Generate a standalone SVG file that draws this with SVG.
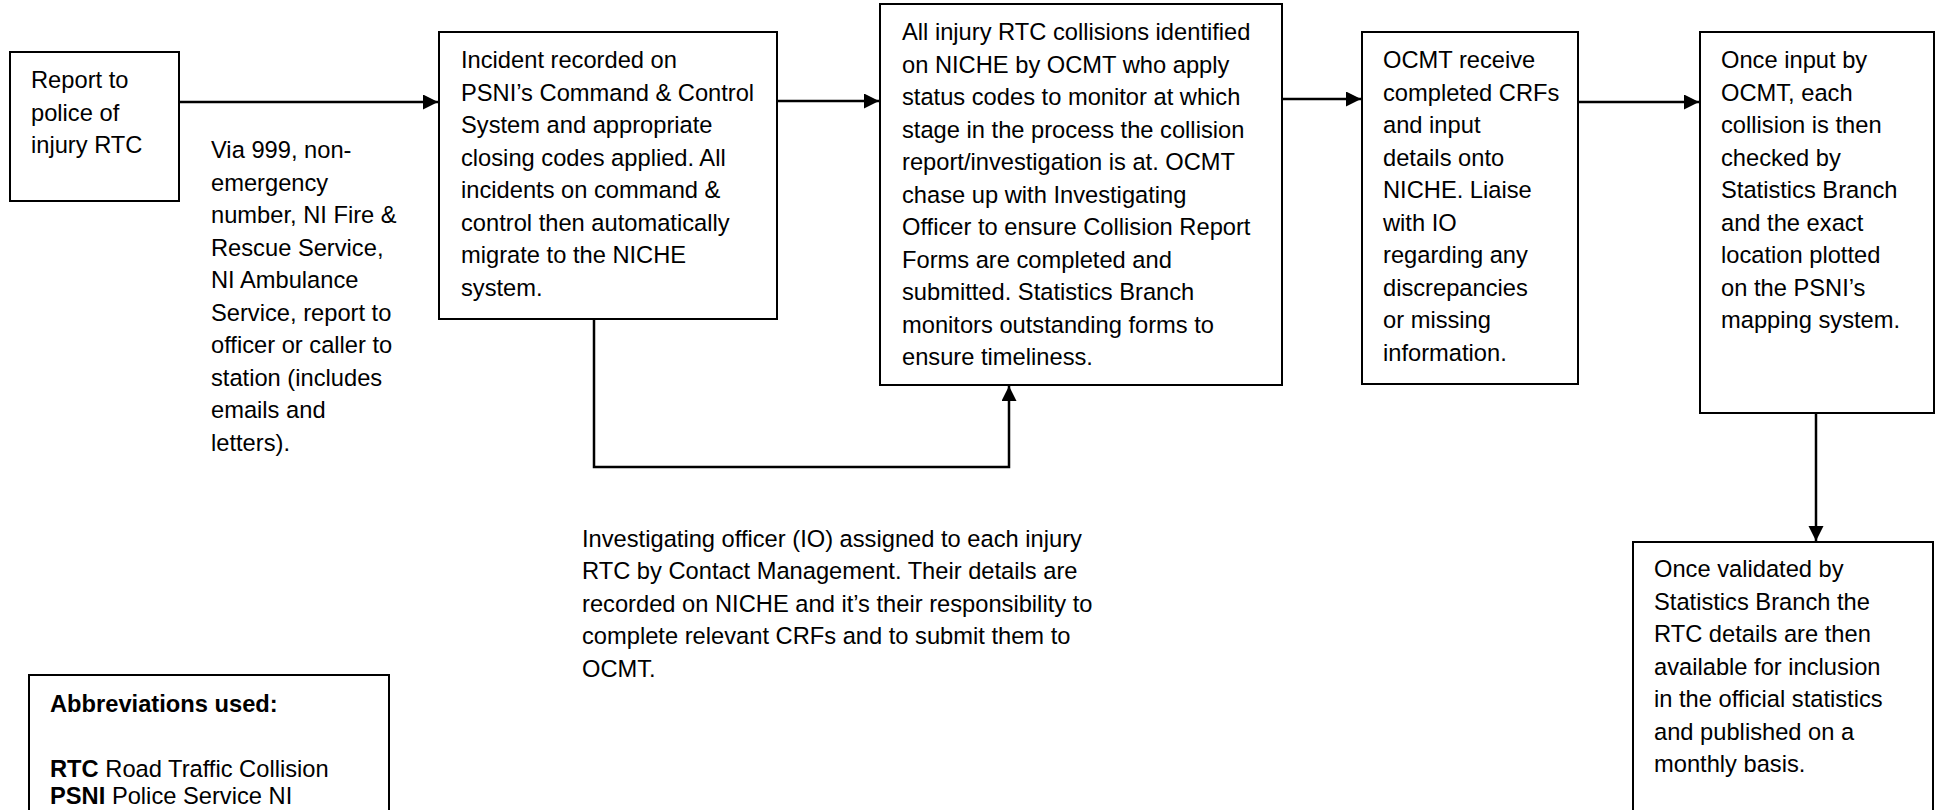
<svg xmlns="http://www.w3.org/2000/svg" width="1937" height="810" viewBox="0 0 1937 810">
<style>
.box{fill:#fff;stroke:#000;stroke-width:2}
.t{font-family:"Liberation Sans",Arial,sans-serif;font-size:23.7px;fill:#000}
.b{font-weight:bold}
.c{fill:none;stroke:#000;stroke-width:2.5}
</style>
<defs>
<marker id="ah" markerUnits="userSpaceOnUse" markerWidth="16" markerHeight="16" refX="15" refY="7.5" orient="auto">
<path d="M0,0 L15,7.5 L0,15 z" fill="#000"/>
</marker>
</defs>
<rect width="1937" height="810" fill="#fff"/>
<g id="connectors">
<line class="c" x1="179" y1="102" x2="438" y2="102" marker-end="url(#ah)"/>
<line class="c" x1="777" y1="101" x2="879" y2="101" marker-end="url(#ah)"/>
<line class="c" x1="1282" y1="99" x2="1361" y2="99" marker-end="url(#ah)"/>
<line class="c" x1="1578" y1="102" x2="1699" y2="102" marker-end="url(#ah)"/>
<line class="c" x1="1816" y1="413" x2="1816" y2="541" marker-end="url(#ah)"/>
<polyline class="c" points="594,319 594,467 1009,467 1009,386" marker-end="url(#ah)"/>
</g>
<g id="n1">
<rect class="box" x="10" y="52" width="169" height="149"/>
<text class="t" x="31" y="88">Report to</text>
<text class="t" x="31" y="120.5">police of</text>
<text class="t" x="31" y="153">injury RTC</text>
</g>
<g id="via">
<text class="t" x="211" y="158">Via 999, non-</text>
<text class="t" x="211" y="190.5">emergency</text>
<text class="t" x="211" y="223">number, NI Fire &amp;</text>
<text class="t" x="211" y="255.5">Rescue Service,</text>
<text class="t" x="211" y="288">NI Ambulance</text>
<text class="t" x="211" y="320.5">Service, report to</text>
<text class="t" x="211" y="353">officer or caller to</text>
<text class="t" x="211" y="385.5">station (includes</text>
<text class="t" x="211" y="418">emails and</text>
<text class="t" x="211" y="450.5">letters).</text>
</g>
<g id="n2">
<rect class="box" x="439" y="32" width="338" height="287"/>
<text class="t" x="461" y="68">Incident recorded on</text>
<text class="t" x="461" y="100.5">PSNI’s Command &amp; Control</text>
<text class="t" x="461" y="133">System and appropriate</text>
<text class="t" x="461" y="165.5">closing codes applied. All</text>
<text class="t" x="461" y="198">incidents on command &amp;</text>
<text class="t" x="461" y="230.5">control then automatically</text>
<text class="t" x="461" y="263">migrate to the NICHE</text>
<text class="t" x="461" y="295.5">system.</text>
</g>
<g id="n3">
<rect class="box" x="880" y="4" width="402" height="381"/>
<text class="t" x="902" y="40">All injury RTC collisions identified</text>
<text class="t" x="902" y="72.5">on NICHE by OCMT who apply</text>
<text class="t" x="902" y="105">status codes to monitor at which</text>
<text class="t" x="902" y="137.5">stage in the process the collision</text>
<text class="t" x="902" y="170">report/investigation is at. OCMT</text>
<text class="t" x="902" y="202.5">chase up with Investigating</text>
<text class="t" x="902" y="235">Officer to ensure Collision Report</text>
<text class="t" x="902" y="267.5">Forms are completed and</text>
<text class="t" x="902" y="300">submitted. Statistics Branch</text>
<text class="t" x="902" y="332.5">monitors outstanding forms to</text>
<text class="t" x="902" y="365">ensure timeliness.</text>
</g>
<g id="n4">
<rect class="box" x="1362" y="32" width="216" height="352"/>
<text class="t" x="1383" y="68">OCMT receive</text>
<text class="t" x="1383" y="100.5">completed CRFs</text>
<text class="t" x="1383" y="133">and input</text>
<text class="t" x="1383" y="165.5">details onto</text>
<text class="t" x="1383" y="198">NICHE. Liaise</text>
<text class="t" x="1383" y="230.5">with IO</text>
<text class="t" x="1383" y="263">regarding any</text>
<text class="t" x="1383" y="295.5">discrepancies</text>
<text class="t" x="1383" y="328">or missing</text>
<text class="t" x="1383" y="360.5">information.</text>
</g>
<g id="n5">
<rect class="box" x="1700" y="32" width="234" height="381"/>
<text class="t" x="1721" y="68">Once input by</text>
<text class="t" x="1721" y="100.5">OCMT, each</text>
<text class="t" x="1721" y="133">collision is then</text>
<text class="t" x="1721" y="165.5">checked by</text>
<text class="t" x="1721" y="198">Statistics Branch</text>
<text class="t" x="1721" y="230.5">and the exact</text>
<text class="t" x="1721" y="263">location plotted</text>
<text class="t" x="1721" y="295.5">on the PSNI’s</text>
<text class="t" x="1721" y="328">mapping system.</text>
</g>
<g id="n6">
<rect class="box" x="1633" y="542" width="300" height="280"/>
<text class="t" x="1654" y="577">Once validated by</text>
<text class="t" x="1654" y="609.5">Statistics Branch the</text>
<text class="t" x="1654" y="642">RTC details are then</text>
<text class="t" x="1654" y="674.5">available for inclusion</text>
<text class="t" x="1654" y="707">in the official statistics</text>
<text class="t" x="1654" y="739.5">and published on a</text>
<text class="t" x="1654" y="772">monthly basis.</text>
</g>
<g id="io">
<text class="t" x="582" y="546.5">Investigating officer (IO) assigned to each injury</text>
<text class="t" x="582" y="579">RTC by Contact Management. Their details are</text>
<text class="t" x="582" y="611.5">recorded on NICHE and it’s their responsibility to</text>
<text class="t" x="582" y="644">complete relevant CRFs and to submit them to</text>
<text class="t" x="582" y="676.5">OCMT.</text>
</g>
<g id="abbrev">
<rect class="box" x="29" y="675" width="360" height="150"/>
<text class="t b" x="50" y="711.5">Abbreviations used:</text>
<text class="t" x="50" y="776.5"><tspan class="b">RTC</tspan> Road Traffic Collision</text>
<text class="t" x="50" y="804"><tspan class="b">PSNI</tspan> Police Service NI</text>
</g>
</svg>
